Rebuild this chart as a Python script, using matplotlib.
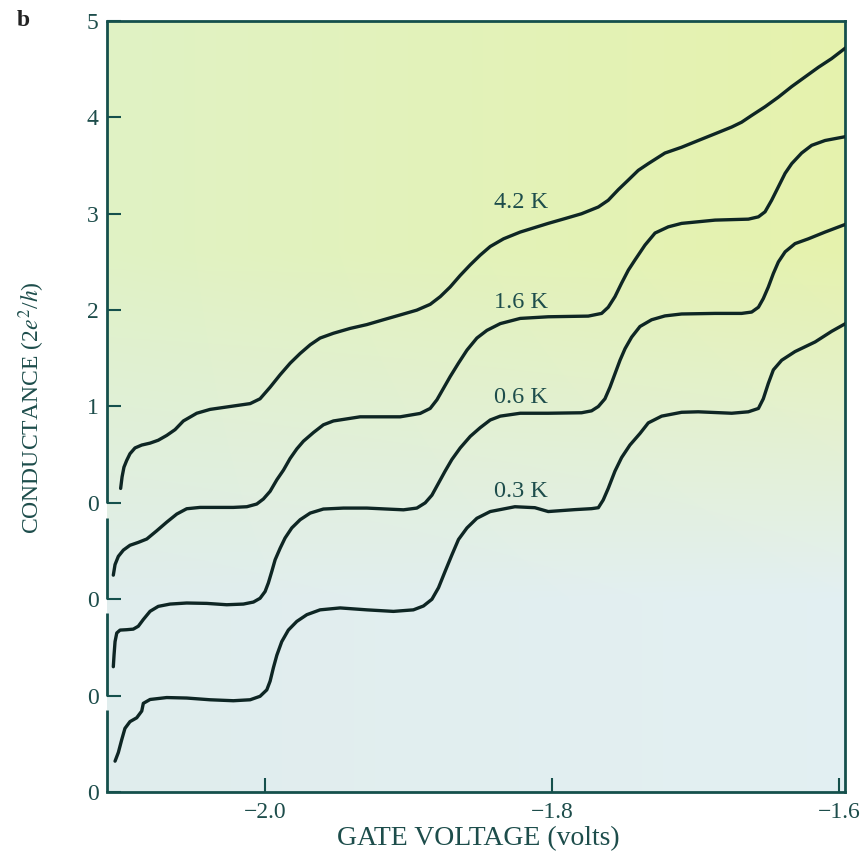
import matplotlib.pyplot as plt
import numpy as np

plt.rcParams['font.family'] = ['Liberation Serif', 'DejaVu Serif']
plt.rcParams['mathtext.fontset'] = 'stix'

# --- data: gate voltage (V) and conductance (2e^2/h) ---
v_03 = [-2.1044, -2.1021, -2.0998, -2.0975, -2.094, -2.0893, -2.0858, -2.0847, -2.080,
        -2.0684, -2.0545, -2.0382, -2.022, -2.0103, -2.0034, -1.9987, -1.9964, -1.9941,
        -1.9917, -1.9883, -1.9837, -1.9778, -1.9708, -1.9616, -1.9476, -1.929, -1.9105,
        -1.8966, -1.8896, -1.8837, -1.8791, -1.8745, -1.8698, -1.8652, -1.8593, -1.8524,
        -1.8431, -1.8259, -1.812, -1.8027, -1.7841, -1.7725, -1.7678, -1.7644, -1.7609,
        -1.7562, -1.7516, -1.7458, -1.7388, -1.733, -1.7237, -1.7098, -1.6982, -1.6749,
        -1.6633, -1.6563, -1.6529, -1.6494, -1.6459, -1.6401, -1.6308, -1.6168, -1.6053,
        -1.5957]
g_03 = [0.32, 0.41, 0.54, 0.66, 0.73, 0.77, 0.84, 0.92, 0.96,
        0.98, 0.975, 0.957, 0.947, 0.957, 0.993, 1.06, 1.15, 1.29,
        1.42, 1.56, 1.68, 1.77, 1.84, 1.89, 1.91, 1.89, 1.874,
        1.89, 1.93, 2.00, 2.12, 2.29, 2.46, 2.62, 2.74, 2.84,
        2.91, 2.96, 2.95, 2.91, 2.93, 2.94, 2.95, 3.03, 3.15,
        3.33, 3.47, 3.60, 3.72, 3.83, 3.90, 3.94, 3.945, 3.93,
        3.945, 3.98, 4.08, 4.24, 4.38, 4.48, 4.57, 4.67, 4.78,
        4.86]

v_06 = [-2.1056, -2.1051, -2.1044, -2.1032, -2.1009, -2.0963, -2.0917, -2.0882, -2.0847,
        -2.080, -2.0743, -2.0661, -2.0545, -2.0405, -2.0266, -2.015, -2.008, -2.0034,
        -1.9999, -1.9976, -1.9952, -1.9929, -1.9894, -1.986, -1.9813, -1.9755, -1.9685,
        -1.9593, -1.9453, -1.929, -1.9151, -1.9035, -1.8942, -1.8884, -1.8837, -1.8791,
        -1.8745, -1.8698, -1.864, -1.857, -1.8501, -1.8431, -1.8361, -1.8222, -1.8027,
        -1.7795, -1.7725, -1.7678, -1.7632, -1.7597, -1.7562, -1.7527, -1.7492, -1.7446,
        -1.7388, -1.7307, -1.7214, -1.7098, -1.6865, -1.668, -1.661, -1.6563, -1.6529,
        -1.6494, -1.6459, -1.6424, -1.6377, -1.6308, -1.6215, -1.6099, -1.5957]
g_06 = [0.30, 0.42, 0.56, 0.65, 0.68, 0.684, 0.69, 0.72, 0.79,
        0.875, 0.926, 0.95, 0.961, 0.957, 0.943, 0.95, 0.971, 1.01,
        1.08, 1.17, 1.29, 1.41, 1.53, 1.635, 1.74, 1.825, 1.894,
        1.936, 1.946, 1.946, 1.936, 1.928, 1.946, 2.00, 2.08, 2.205,
        2.33, 2.45, 2.57, 2.69, 2.78, 2.86, 2.90, 2.93, 2.93,
        2.935, 2.955, 3.00, 3.08, 3.20, 3.34, 3.48, 3.60, 3.72,
        3.83, 3.90, 3.94, 3.96, 3.966, 3.966, 3.98, 4.03, 4.12,
        4.24, 4.38, 4.50, 4.605, 4.69, 4.74, 4.81, 4.89]

v_16 = [-2.1056, -2.1044, -2.1021, -2.0986, -2.094, -2.0882, -2.0823, -2.0754, -2.0684,
        -2.0614, -2.0545, -2.0452, -2.0336, -2.022, -2.0126, -2.0057, -2.0011, -1.9964,
        -1.9917, -1.9871, -1.9825, -1.9778, -1.9732, -1.9662, -1.9593, -1.9523, -1.9337,
        -1.9058, -1.8919, -1.8849, -1.8802, -1.8756, -1.871, -1.8652, -1.8593, -1.8524,
        -1.8454, -1.8361, -1.8222, -1.8027, -1.7748, -1.7655, -1.7609, -1.7562, -1.7516,
        -1.7469, -1.7423, -1.7353, -1.7283, -1.7191, -1.7098, -1.6865, -1.6633, -1.6563,
        -1.6517, -1.6471, -1.6424, -1.6377, -1.6331, -1.6262, -1.6192, -1.6099, -1.5957]
g_16 = [0.25, 0.36, 0.445, 0.51, 0.56, 0.59, 0.625, 0.71, 0.80,
        0.884, 0.939, 0.953, 0.953, 0.953, 0.96, 0.988, 1.04, 1.12,
        1.24, 1.34, 1.46, 1.56, 1.64, 1.73, 1.81, 1.85, 1.893,
        1.893, 1.928, 1.98, 2.07, 2.19, 2.31, 2.45, 2.585, 2.71,
        2.79, 2.86, 2.914, 2.931, 2.938, 2.966, 3.03, 3.14, 3.28,
        3.415, 3.52, 3.675, 3.80, 3.864, 3.90, 3.934, 3.944, 3.968,
        4.02, 4.14, 4.28, 4.42, 4.52, 4.63, 4.71, 4.76, 4.80]

v_42 = [-2.1005, -2.0995, -2.0982, -2.0963, -2.094, -2.0905, -2.0858, -2.080, -2.0743,
        -2.0684, -2.0626, -2.0568, -2.0475, -2.0382, -2.0243, -2.0103, -2.0034, -1.9964,
        -1.9894, -1.9824, -1.9755, -1.9685, -1.9616, -1.9523, -1.9407, -1.929, -1.9175,
        -1.9058, -1.8942, -1.8849, -1.8779, -1.871, -1.864, -1.857, -1.8501, -1.8431,
        -1.8338, -1.8222, -1.8027, -1.791, -1.7795, -1.7678, -1.7609, -1.7539, -1.7469,
        -1.74, -1.733, -1.7214, -1.7098, -1.6982, -1.6865, -1.6749, -1.668, -1.661,
        -1.6517, -1.6424, -1.6331, -1.6238, -1.6145, -1.6053, -1.5957]
g_42 = [0.15, 0.27, 0.37, 0.44, 0.51, 0.57, 0.60, 0.62, 0.65,
        0.70, 0.76, 0.85, 0.93, 0.97, 1.00, 1.03, 1.08, 1.20,
        1.33, 1.45, 1.55, 1.64, 1.71, 1.76, 1.81, 1.85, 1.90,
        1.95, 2.00, 2.06, 2.14, 2.24, 2.36, 2.47, 2.57, 2.66,
        2.74, 2.81, 2.90, 2.95, 3.00, 3.07, 3.14, 3.25, 3.35,
        3.45, 3.52, 3.63, 3.69, 3.76, 3.83, 3.90, 3.95, 4.02,
        4.11, 4.21, 4.32, 4.42, 4.52, 4.61, 4.72]

temps = ['0.3 K', '0.6 K', '1.6 K', '4.2 K']
curves = [(v_03, g_03), (v_06, g_06), (v_16, g_16), (v_42, g_42)]
offsets = [0, 1, 2, 3]
y_ticks = [0, 1, 2, 3, 4, 5, 6, 7, 8]
y_ticklabels = ['0', '0', '0', '0', '1', '2', '3', '4', '5']
x_ticks = [-2.0, -1.8, -1.6]

line_col = '#0e2624'
axis_col = '#15504c'
text_col = '#1d4d4b'

fig = plt.figure(figsize=(8.68, 8.58), dpi=100)
ax = fig.add_axes([107 / 868, 66 / 858, 738 / 868, 771 / 858])
xmin, xmax = -2.110, -1.596
ax.set_xlim(xmin, xmax)
ax.set_ylim(0, 8)

# paper-tint background: yellow-green at the top fading to pale blue
tl = np.array([0.88, 0.95, 0.77]); tr = np.array([0.90, 0.95, 0.68])
bl = np.array([0.88, 0.93, 0.93]); br = np.array([0.89, 0.94, 0.95])
ty = np.linspace(0, 1, 200)[:, None, None]
tx = np.linspace(0, 1, 200)[None, :, None]
top = tl * (1 - tx) + tr * tx
bot = bl * (1 - tx) + br * tx
ty2 = np.clip((ty - 0.3) / 0.45, 0, 1)
bg = top * (1 - ty2) + bot * ty2
ax.imshow(bg, extent=[xmin, xmax, 0, 8], aspect='auto', zorder=0,
          interpolation='bilinear', origin='upper')

for (v, g), off in zip(curves, offsets):
    ax.plot(v, np.array(g) + off, color=line_col, lw=2.4,
            solid_joinstyle='round', solid_capstyle='round', zorder=3)

# temperature labels
label_pos = [(-1.8215, 3.12), (-1.8215, 4.09), (-1.8215, 5.08), (-1.8215, 6.12)]
for t, (lx, ly) in zip(temps, label_pos):
    ax.text(lx, ly, t, ha='center', va='center', fontsize=17.5, color=text_col, zorder=4)

# axes styling; left spine broken into one piece per curve
for s in ['top', 'right', 'bottom']:
    ax.spines[s].set_color(axis_col)
    ax.spines[s].set_linewidth(2)
ax.spines['left'].set_visible(False)
seg = [(0, 0.85), (1, 1.86), (2, 2.84), (3, 8)]
for lo, hi in seg:
    ax.plot([xmin, xmin], [lo, hi], color=axis_col, lw=2, clip_on=False,
            solid_capstyle='butt', zorder=5)

ax.set_yticks(y_ticks)
ax.set_yticklabels(y_ticklabels)
ax.set_xticks(x_ticks)
ax.set_xticklabels(['\u22122.0', '\u22121.8', '\u22121.6'])
ax.tick_params(axis='both', direction='in', length=10, width=1.5, color=axis_col,
               labelcolor=text_col, labelsize=17)
ax.tick_params(axis='y', pad=6)
ax.tick_params(axis='x', pad=7)

fig.text(478 / 868, 1 - 839 / 858, 'GATE VOLTAGE (volts)', ha='center', va='center',
         fontsize=20, color=text_col)
fig.text(32 / 868, 1 - 408 / 858, 'CONDUCTANCE (2$e^2$/$h$)', ha='center', va='center',
         rotation=90, fontsize=17, color=text_col)
fig.text(23 / 868, 1 - 20 / 858, 'b', ha='center', va='center', fontsize=17,
         fontweight='bold', color='#222222')

plt.savefig('out.png', dpi=100)
